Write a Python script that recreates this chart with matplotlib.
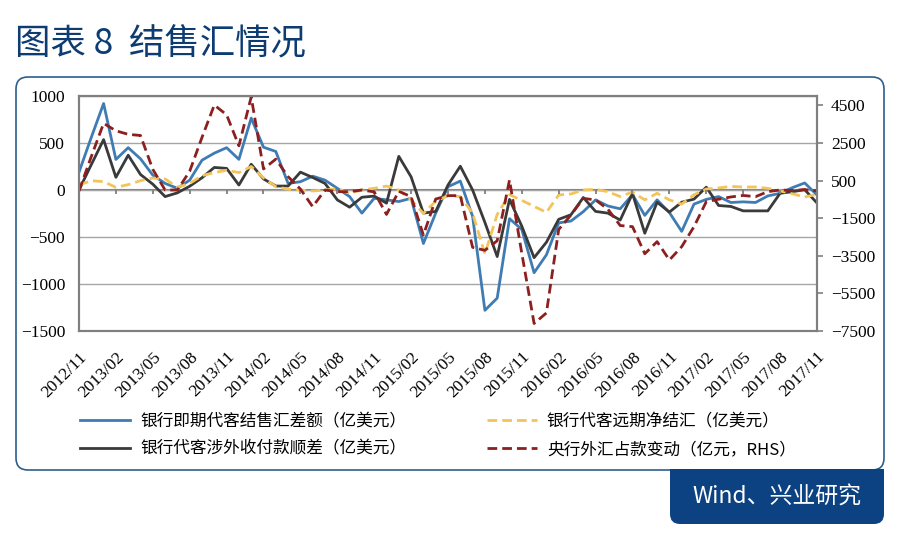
import numpy as np
import pandas as pd
import matplotlib
matplotlib.use("Agg")
import matplotlib.pyplot as plt
from matplotlib.patches import FancyBboxPatch, Rectangle
from matplotlib.font_manager import FontProperties

# monthly data, 2012/11 - 2017/11
months = pd.date_range("2012-11-01", periods=61, freq="MS").strftime("%Y/%m").tolist()

spot_net = [190, 560, 920, 325, 450, 332, 158, 70, 18, 105,
            317, 392, 450, 326, 765, 455, 410, 70, 88, 147,
            105, 18, -70, -246, -88, -105, -123, -88, -569, -246,
            35, 95, -281, -1280, -1150, -305, -420, -880, -690, -350,
            -330, -230, -105, -170, -200, -50, -270, -105, -240, -440,
            -150, -100, -70, -133, -126, -133, -63, -35, 25, 75, -53]

cross_border = [0, 270, 536, 135, 370, 165, 62, -70, -30, 40,
                130, 240, 230, 53, 274, 118, 42, 42, 190, 133,
                70, -105, -183, -77, -65, -140, 358, 140, -246, -228,
                53, 253, 0, -345, -708, -100, -385, -720, -556, -312,
                -263, -80, -228, -246, -320, -38, -460, -130, -235, -130,
                -97, 30, -165, -175, -222, -222, -222, -35, -18, 3, -138]

forward_net = [53, 99, 89, 28, 57, 99, 127, 118, 30, 70,
               153, 185, 210, 185, 250, 130, 35, 8, 0, -10,
               0, 14, -35, 0, 18, 42, 0, -105, -250, -120,
               -60, -70, -246, -680, -260, -50, -110, -175, -238, -53,
               -42, 0, 7, -18, -70, -22, -105, -35, -105, -150,
               -50, 10, 22, 38, 32, 32, 18, -10, -40, -75, -45]

pboc_fx = [-50, 1780, 3546, 3150, 2960, 2900, 1100, 0, 0, 1000,
           2800, 4520, 4000, 2350, 4950, 1120, 1640, 709, 50, -887,
           0, -89, -89, 0, -100, -1300, -70, -355, -2400, -480,
           -300, -300, -3050, -3210, -2700, 532, -3370, -7100, -6540, -2100,
           -1330, -443, -532, -1020, -1890, -1950, -3390, -2748, -3723, -3014,
           -1950, -620, -490, -370, -290, -355, -89, 0, -25, 20, -45]

labels = ["银行即期代客结售汇差额（亿美元）", "银行代客涉外收付款顺差（亿美元）",
          "银行代客远期净结汇（亿美元）", "央行外汇占款变动（亿元，RHS）"]

cjk = ["Noto Sans CJK SC", "DejaVu Sans"]
serif = "Liberation Serif"
navy = "#0d3c73"
grey = "#7f7f7f"

fig = plt.figure(figsize=(9, 5.38), dpi=100)

# outer rounded frame + source box (kept behind the axes)
frame = FancyBboxPatch((0.16, 0.68), 8.68, 3.93, boxstyle="round,pad=0,rounding_size=0.12",
                       transform=fig.dpi_scale_trans, fc="white", ec="#2b5f8e", lw=1.2, zorder=-2)
fig.patches.append(frame)
src = FancyBboxPatch((6.70, 0.14), 2.14, 0.54, boxstyle="round,pad=0,rounding_size=0.1",
                     transform=fig.dpi_scale_trans, fc="#0d4282", ec="none", zorder=-1)
fig.patches.append(src)
fig.patches.append(Rectangle((6.70, 0.40), 2.14, 0.29, transform=fig.dpi_scale_trans,
                             fc="#0d4282", ec="none", zorder=-1))
fig.text(7.77 / 9, 0.41 / 5.38, "Wind、兴业研究", color="white", fontsize=16.5,
         family=cjk, ha="center", va="center")

fig.text(15 / 900, 1 - 44 / 538, "图表 8  结售汇情况", color=navy, fontsize=25.5,
         family=cjk, ha="left", va="center")

ax = fig.add_axes([79 / 900, 1 - 331 / 538, 738 / 900, 235 / 538])
ax2 = ax.twinx()
ax.patch.set_alpha(0)

x = np.arange(len(months))
l1, = ax.plot(x, spot_net, color="#3f7cb4", lw=2.0)
l2, = ax.plot(x, cross_border, color="#3a3a3a", lw=2.0)
l3, = ax.plot(x, forward_net, color="#f2c45a", lw=2.0, ls=(0, (3.5, 1.8)))
l4, = ax2.plot(x, pboc_fx, color="#8c1f1f", lw=2.0, ls=(0, (3.5, 1.8)))

ax.set_xlim(0, 60)
ax.set_ylim(-1500, 1000)
ax.set_yticks(np.arange(-1500, 1001, 500))
ax2.set_ylim(-7500, 5000)
ax2.set_yticks(np.arange(-7500, 4501, 2000))

ax.grid(axis="y", color="#a6a6a6", lw=1)
ax.axhline(0, color=grey, lw=1.5, zorder=1)
tick_pos = x[::3]
ax.vlines(tick_pos, -40, 0, color=grey, lw=1.3)

ax.set_xticks(tick_pos)
ax.set_xticklabels([months[i] for i in tick_pos], rotation=45, ha="right", va="top",
                   rotation_mode="anchor", fontfamily=serif, fontsize=12.5)
ax.tick_params(axis="x", length=0, pad=13)
ax.tick_params(axis="y", length=0, pad=10, labelsize=12.5)
ax2.tick_params(axis="y", length=4, width=1.2, color=grey, direction="out", pad=6, labelsize=12.5)
for t in ax.get_yticklabels() + ax2.get_yticklabels():
    t.set_fontfamily(serif)

for a in (ax, ax2):
    for s in a.spines.values():
        s.set_color(grey)
        s.set_linewidth(1.5)

fig.legend([l1, l2, l3, l4], labels, loc="upper left", bbox_to_anchor=(80 / 900, 1 - 413 / 538),
           ncol=2, frameon=False, prop=FontProperties(family=cjk, size=12),
           handlelength=3.0, handletextpad=0.6, columnspacing=4.85, labelspacing=0.65,
           borderaxespad=0, borderpad=0)

fig.savefig("out.png", dpi=100)
